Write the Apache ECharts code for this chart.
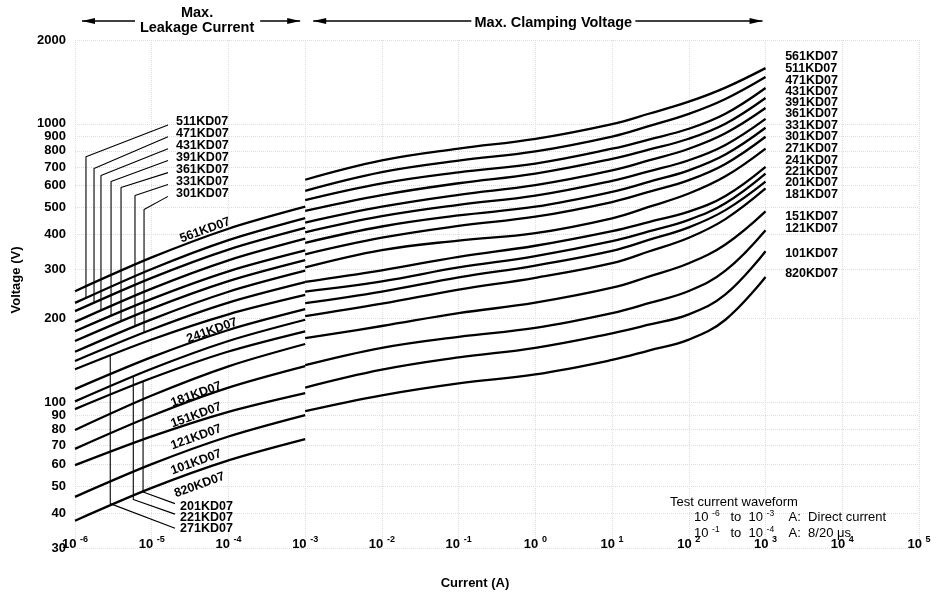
<!DOCTYPE html>
<html><head><meta charset="utf-8">
<script src="https://cdn.jsdelivr.net/npm/echarts@6/dist/echarts.min.js"></script>
<style>html,body{margin:0;padding:0;background:#fff}#c{width:940px;height:595px}</style>
</head><body><div id="c"></div>
<script>
// ---- data ----
const models = ['820KD07','101KD07','121KD07','151KD07','181KD07','201KD07','221KD07','241KD07','271KD07','301KD07','331KD07','361KD07','391KD07','431KD07','471KD07','511KD07','561KD07'];
const leakageCurrent = [1e-6, 1e-5, 1e-4, 1e-3];
const leakageVoltage = [
  [37.6, 49.3, 61.9, 73.8],
  [45.8, 60.0, 75.4, 90],
  [59.5, 75.5, 92.5, 108],
  [68.1, 89.5, 113, 135],
  [79.6, 105.8, 134.7, 162],
  [94.6, 122.3, 152.3, 180],
  [100.8, 132, 166.1, 198],
  [111.6, 145.3, 181.9, 216],
  [131.5, 168.2, 207.1, 243],
  [140.8, 182.6, 228, 270],
  [152, 198.7, 249.6, 297],
  [166, 217, 272.4, 324],
  [180, 235.2, 295.4, 351],
  [194.5, 256.1, 323.6, 387],
  [212.6, 280, 353.7, 423],
  [227.6, 301.3, 382.6, 459],
  [250.7, 331.4, 420.2, 504]
];
const clampCurrent = [1e-3, 1e-2, 1e-1, 1, 10, 30, 100, 300, 1000];
const clampVoltage = [
  [93, 106, 117, 126, 142, 153.5, 168, 198, 282],
  [113, 131, 145, 157, 177, 190, 207, 244, 349],
  [136, 157, 172, 185, 209, 227, 251, 297, 415],
  [170, 188, 209, 228, 258, 283, 316, 369, 485],
  [204, 226, 254, 280, 316, 348, 390, 455, 586],
  [227, 250, 281, 310, 350, 383, 425, 490, 620],
  [250, 272, 305, 335, 379, 411, 452, 519, 663],
  [271, 298, 333, 365, 412, 444, 484, 551, 701],
  [305, 352, 381, 405, 458, 503, 562, 648, 815],
  [340, 390, 430, 464, 524, 570, 628, 718, 899],
  [374, 428, 469, 504, 570, 619, 681, 776, 968],
  [408, 466, 512, 552, 624, 675, 740, 840, 1042],
  [442, 504, 556, 602, 680, 739, 814, 925, 1140],
  [487, 555, 612, 663, 749, 808, 884, 1001, 1238],
  [532, 611, 670, 720, 814, 878, 960, 1087, 1345],
  [575, 671, 738, 796, 900, 981, 1086, 1228, 1472],
  [630, 739, 815, 883, 998, 1087, 1201, 1349, 1585]
];
const xTicks = [1e-6, 1e-5, 1e-4, 1e-3, 1e-2, 1e-1, 1, 10, 100, 1000, 1e4, 1e5];
const yTicks = [30, 40, 50, 60, 70, 80, 90, 100, 200, 300, 400, 500, 600, 700, 800, 900, 1000, 2000];

// right-hand model labels (anchor current, voltage per model)
const rightLabelCurrent = 1800;
const rightLabelVoltage = [289, 343, 422, 465, 557, 616, 674, 738, 814, 899, 984, 1086, 1189, 1301, 1436, 1585, 1750];

// labels written along the leakage lines
const lineLabelNames = ['561KD07', '241KD07', '181KD07', '151KD07', '121KD07', '101KD07', '820KD07'];
const lineLabelPoints = [[4.95e-5, 415], [6.1e-5, 181], [3.8e-5, 106.8], [3.8e-5, 89.9], [3.8e-5, 75], [3.8e-5, 61], [4.2e-5, 50.5]];

// upper-left leader labels
const upperLabelNames = ['511KD07', '471KD07', '431KD07', '391KD07', '361KD07', '331KD07', '301KD07'];
const upperLabelCurrent = 2.07e-5;
const upperLabelVoltage = [1016, 921, 834, 756, 685, 621, 562];
const upperLeaders = [
  [[1.63e-5, 991], [1.39e-6, 762], [1.39e-6, 236.9]],
  [[1.63e-5, 899], [1.77e-6, 691], [1.77e-6, 227.6]],
  [[1.63e-5, 814], [2.18e-6, 652], [2.18e-6, 213.5]],
  [[1.63e-5, 738], [2.95e-6, 621], [2.95e-6, 204.1]],
  [[1.63e-5, 668], [3.98e-6, 591], [3.98e-6, 194.9]],
  [[1.63e-5, 606], [6.05e-6, 553], [6.05e-6, 187.4]],
  [[1.63e-5, 549], [7.94e-6, 493], [7.94e-6, 177.9]]
];
// lower-left leader labels
const lowerLabelNames = ['201KD07', '221KD07', '271KD07'];
const lowerLabelCurrent = 2.34e-5;
const lowerLabelVoltage = [42.2, 38.5, 35.2];
const lowerLeaders = [
  [[7.71e-6, 118.8], [7.71e-6, 47.7], [2.01e-5, 43.3]],
  [[5.75e-6, 123.8], [5.75e-6, 44.8], [2.01e-5, 39.7]],
  [[2.88e-6, 147.3], [2.88e-6, 43.3], [2.01e-5, 35.3]]
];

// ---- chart ----
const FONT = '"Liberation Sans", Arial, Helvetica, sans-serif';
const chart = echarts.init(document.getElementById('c'));
const series = [];
const curveStyle = {color: '#000', width: 2.3};
models.forEach((m, i) => {
  series.push({type: 'line', name: m, data: leakageCurrent.map((c, j) => [c, leakageVoltage[i][j]]),
    symbol: 'none', smooth: 0.3, lineStyle: curveStyle, silent: true, z: 3});
  series.push({type: 'line', name: m, data: clampCurrent.map((c, j) => [c, clampVoltage[i][j]]),
    symbol: 'none', smooth: 0.4, lineStyle: curveStyle, silent: true, z: 3});
});
upperLeaders.concat(lowerLeaders).forEach(pts => {
  series.push({type: 'line', data: pts, symbol: 'none', lineStyle: {color: '#000', width: 1.1}, silent: true, z: 2});
});
const txt = {color: '#000', fontSize: 12.5, fontWeight: 'bold', fontFamily: FONT, textBorderWidth: 0, opacity: 1};
const labelSeries = (names, points, extra) => ({
  type: 'scatter', symbolSize: 0, silent: true, z: 5, itemStyle: {opacity: 1, color: '#000'},
  data: names.map((m, i) => ({name: m, value: points[i]})),
  label: Object.assign({show: true, formatter: p => p.name}, txt, extra)
});
series.push(labelSeries(models, rightLabelVoltage.map(v => [rightLabelCurrent, v]), {position: 'right', distance: 0}));
series.push(labelSeries(upperLabelNames, upperLabelVoltage.map(v => [upperLabelCurrent, v]), {position: 'right', distance: 0}));
series.push(labelSeries(lowerLabelNames, lowerLabelVoltage.map(v => [lowerLabelCurrent, v]), {position: 'right', distance: 0}));
series.push(labelSeries(lineLabelNames, lineLabelPoints, {position: 'inside', rotate: 20}));

const gridLine = {show: true, lineStyle: {color: '#dedede', type: 'dotted', width: 1}};
chart.setOption({
  animation: false,
  backgroundColor: '#fff',
  grid: {left: 75, right: 21, top: 40, bottom: 44},
  xAxis: {
    type: 'log', logBase: 10, min: 1e-6, max: 1e5, offset: -17,
    name: 'Current (A)', nameLocation: 'middle', nameGap: 46,
    nameTextStyle: {color: '#000', fontSize: 13, fontWeight: 'bold', fontFamily: FONT, padding: [0, 44, 0, 0]},
    axisLine: {show: false}, axisTick: {show: false, customValues: xTicks},
    splitLine: gridLine,
    axisLabel: {customValues: xTicks, margin: 4, color: '#000', fontSize: 13, fontWeight: 'bold', fontFamily: FONT,
      formatter: v => '10 {s|' + Math.round(Math.log10(v)) + '}',
      rich: {s: {fontSize: 9, fontWeight: 'bold', fontFamily: FONT, color: '#000', padding: [0, 0, 9, 0]}}}
  },
  yAxis: {
    type: 'log', logBase: 10, min: 30, max: 2000,
    name: 'Voltage (V)', nameLocation: 'middle', nameGap: 52,
    nameTextStyle: {color: '#000', fontSize: 13, fontWeight: 'bold', fontFamily: FONT, padding: [0, 0, 0, 28]},
    axisLine: {show: false}, axisTick: {show: false, customValues: yTicks},
    splitLine: gridLine,
    axisLabel: {customValues: yTicks, margin: 9, color: '#000', fontSize: 13, fontWeight: 'bold', fontFamily: FONT,
      formatter: v => String(Math.round(v))}
  },
  series: series
});

// ---- header annotations placed through the axes ----
const px = (I, V) => chart.convertToPixel({gridIndex: 0}, [I, V]);
const a = px(1e-6, 2000), b = px(1e-3, 2000), c = px(1e3, 2000);
const ay = a[1] - 19;
const arrowHead = (tipX, dir) => ({type: 'polygon', shape: {points: [[tipX, ay], [tipX - dir * 13, ay - 3], [tipX - dir * 13, ay + 3]]}, style: {fill: '#000'}});
const seg = (x0, x1) => ({type: 'line', shape: {x1: x0, y1: ay, x2: x1, y2: ay}, style: {stroke: '#000', lineWidth: 1.5}});
const hdr = {fill: '#000', fontSize: 14.5, fontFamily: FONT, fontWeight: 'bold'};
const leakMid = (a[0] + b[0]) / 2 + 7;
const clampMid = (b[0] + c[0]) / 2 + 18;
const small = {s: {fontSize: 8.5, fontFamily: FONT, fill: '#000', padding: [0, 0, 7, 0]}};
chart.setOption({graphic: [
  arrowHead(a[0] + 7, -1), seg(a[0] + 7, a[0] + 60),
  seg(b[0] - 45, b[0] - 5), arrowHead(b[0] - 5, 1),
  {type: 'text', x: leakMid, y: ay - 8, style: Object.assign({text: 'Max.', align: 'center', verticalAlign: 'middle'}, hdr)},
  {type: 'text', x: leakMid, y: ay + 7, style: Object.assign({text: 'Leakage Current', align: 'center', verticalAlign: 'middle'}, hdr)},
  arrowHead(b[0] + 8, -1), seg(b[0] + 8, clampMid - 82),
  {type: 'text', x: clampMid, y: ay + 2, style: Object.assign({text: 'Max. Clamping Voltage', align: 'center', verticalAlign: 'middle'}, hdr)},
  seg(clampMid + 82, c[0] - 3), arrowHead(c[0] - 3, 1),
  {type: 'text', left: 670, top: 496, style: {text: 'Test current waveform', fill: '#000', fontSize: 13, fontFamily: FONT}},
  {type: 'text', left: 694, top: 509, style: {text: '10 {s|-6}   to  10 {s|-3}    A:  Direct current', fill: '#000', fontSize: 13, fontFamily: FONT, rich: small}},
  {type: 'text', left: 694, top: 525, style: {text: '10 {s|-1}   to  10 {s|-4}    A:  8/20 \u03bcs', fill: '#000', fontSize: 13, fontFamily: FONT, rich: small}}
]});
</script>
</body></html>
